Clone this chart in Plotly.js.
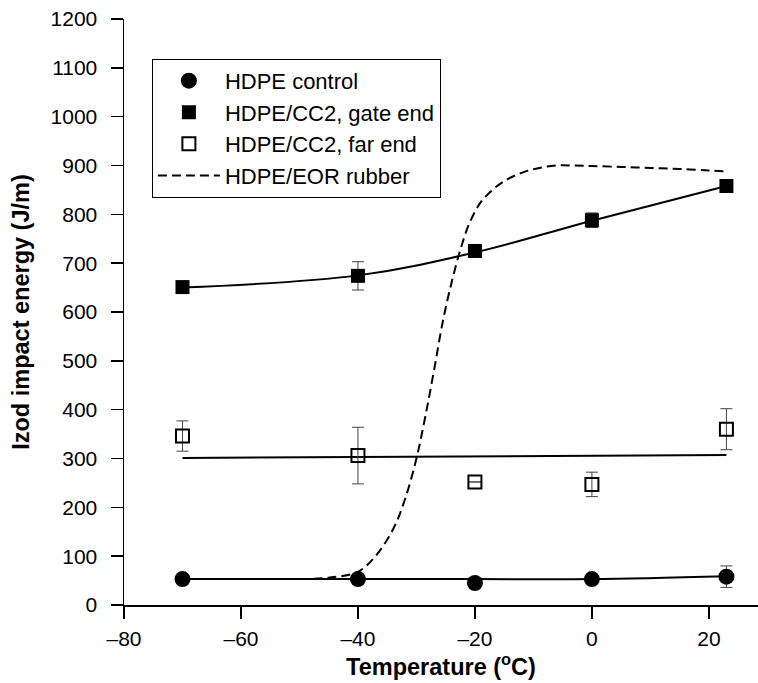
<!DOCTYPE html>
<html>
<head>
<meta charset="utf-8">
<script src="https://cdn.plot.ly/plotly-3.0.1.min.js"></script>
<style>html,body{margin:0;padding:0;background:#fff;}#chart{width:758px;height:683px;}</style>
</head>
<body>
<div id="chart"></div>
<script>
// Measured data
const tempX = [-70, -40, -20, 0, 23];
const controlY = [53, 53, 45, 53, 58];
const controlErr = [0, 0, 0, 0, 22];
const gateY = [651, 674, 725, 788, 858];
const gateErr = [0, 29, 0, 15, 0];
const farY = [346, 306, 252, 247, 360];
const farErr = [31, 58, 0, 25, 42];

// Fit curves
const controlFitX = [-70, -40, -20, 0, 23];
const controlFitY = [53, 53, 53, 53, 59];
const gateFitX = [-70, -40, -20, 0, 23];
const gateFitY = [650, 675, 722, 787, 858];
const farFitX = [-70, 23];
const farFitY = [301, 307];
const eorX = [-50, -45, -40, -37, -34, -32, -30, -28.5, -27, -25.5, -24, -22.5, -21, -19, -17, -15, -12, -9, -6, -3, 0, 5, 10, 15, 20, 23];
const eorY = [53, 56, 68, 100, 155, 215, 300, 385, 480, 580, 660, 727, 780, 825, 850, 868, 885, 895, 900, 900, 899, 897, 895, 893, 890, 888];

const xTickVals = [-80, -60, -40, -20, 0, 20];
const xTickText = ['\u201380', '\u201360', '\u201340', '\u201320', '0', '20'];

const FONT = 'Liberation Sans, Arial, sans-serif';
const errStyle = (arr) => ({type: 'data', array: arr, visible: true, color: '#444', thickness: 1, width: 6});

const traces = [
  {x: controlFitX, y: controlFitY, mode: 'lines', line: {color: '#000', width: 2, shape: 'spline'}, showlegend: false, hoverinfo: 'skip'},
  {x: gateFitX, y: gateFitY, mode: 'lines', line: {color: '#000', width: 2, shape: 'spline'}, showlegend: false, hoverinfo: 'skip'},
  {x: farFitX, y: farFitY, mode: 'lines', line: {color: '#000', width: 2}, showlegend: false, hoverinfo: 'skip'},
  {x: tempX, y: controlY, error_y: errStyle(controlErr), mode: 'markers', name: 'HDPE control',
   marker: {symbol: 'circle', size: 16, color: '#000'}},
  {x: tempX, y: gateY, error_y: errStyle(gateErr), mode: 'markers', name: 'HDPE/CC2, gate end',
   marker: {symbol: 'square', size: 14, color: '#000'}},
  {x: tempX, y: farY, error_y: errStyle(farErr), mode: 'markers', name: 'HDPE/CC2, far end',
   marker: {symbol: 'square-open', size: 13, color: '#000', line: {width: 2, color: '#000'}}},
  {x: eorX, y: eorY, mode: 'lines', name: 'HDPE/EOR rubber', line: {color: '#000', width: 2, dash: '9px,5px', shape: 'spline'}}
];

const layout = {
  width: 758, height: 683,
  margin: {l: 124, r: 0, t: 19, b: 78},
  paper_bgcolor: '#fff', plot_bgcolor: '#fff',
  font: {family: FONT, size: 21, color: '#000'},
  showlegend: true,
  legend: {x: 0.044, y: 0.932, xanchor: 'left', yanchor: 'top', bordercolor: '#000', borderwidth: 1,
    bgcolor: '#fff', font: {family: FONT, size: 22, color: '#000'}, itemwidth: 62, tracegroupgap: 0},
  xaxis: {
    range: [-80, 28.4], showgrid: false, zeroline: false, showline: true, linecolor: '#000', linewidth: 1.5,
    ticks: 'outside', ticklen: 12, tickwidth: 1.5, tickcolor: '#000', ticklabelstandoff: 2,
    tickvals: xTickVals, ticktext: xTickText, tickfont: {family: FONT, size: 21},
    title: {text: '<b>Temperature (<sup>o</sup>C)</b>', font: {family: FONT, size: 23.5}, standoff: 5}
  },
  yaxis: {
    range: [0, 1200], dtick: 100, tick0: 0, showgrid: false, zeroline: false, showline: true, linecolor: '#000', linewidth: 1.5,
    ticks: 'outside', ticklen: 12, tickwidth: 1.5, tickcolor: '#000', tickfont: {family: FONT, size: 21}, ticklabelstandoff: 9,
    title: {text: '<b>Izod impact energy (J/m)</b>', font: {family: FONT, size: 23.5}, standoff: 14}
  }
};

Plotly.newPlot('chart', traces, layout, {displayModeBar: false, staticPlot: true});
</script>
</body>
</html>
